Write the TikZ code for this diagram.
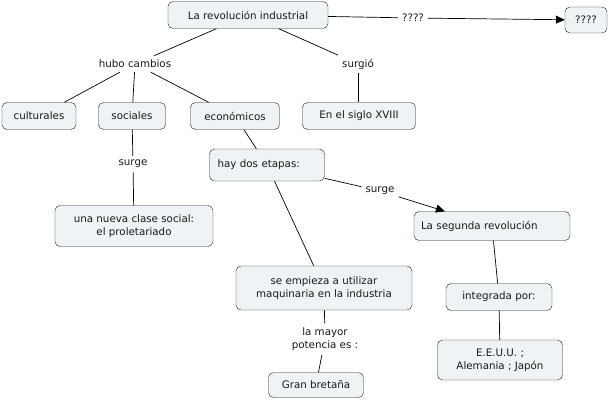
\documentclass[tikz,border=0pt]{standalone}
\usepackage{fontspec}
\setmainfont{DejaVu Sans}
\usetikzlibrary{arrows.meta}
\definecolor{boxfill}{HTML}{EEF3F5}
\definecolor{boxline}{HTML}{222222}
\begin{document}
\begin{tikzpicture}[x=1pt,y=-1pt,
  concept/.style={draw=boxline, fill=boxfill, rounded corners=5pt, inner xsep=6pt, align=center, text=black!90, font=\fontsize{10.3}{13}\selectfont},
  linkword/.style={fill=white, inner sep=4pt, align=center, text=black!90, font=\fontsize{10.3}{13}\selectfont},
  link/.style={draw=black, line width=0.7pt},
  tip/.style={-{Triangle[length=9pt,width=8pt]}}]
\useasboundingbox (0,0) rectangle (610,401);
\node[concept, minimum height=27pt, minimum width=160pt] (rev) at (248,15){La revolución industrial};
\node[concept, minimum height=26pt, minimum width=42pt] (preg) at (586,20){????};
\node[linkword] (qlink) at (413,18){????};
\draw[link](rev) -- (qlink);
\draw[link, tip](qlink) -- (preg);
\node[linkword] (hubo) at (135,64){hubo cambios};
\node[linkword] (surgio) at (358,64){surgió};
\draw[link](rev) -- (hubo);
\draw[link](rev) -- (surgio);
\node[concept, minimum height=27pt, minimum width=74pt] (cult) at (39,116){culturales};
\node[concept, minimum height=27pt, minimum width=67pt] (soc) at (132,116){sociales};
\node[concept, minimum height=27pt, minimum width=89pt] (econ) at (235,116){económicos};
\node[concept, minimum height=27pt, minimum width=113pt] (siglo) at (359,116){En el siglo XVIII};
\draw[link](hubo) -- (cult);
\draw[link](hubo) -- (soc);
\draw[link](hubo) -- (econ);
\draw[link](surgio) -- (surgio |- siglo.north);
\node[linkword] (surgeA) at (133,164){surge};
\node[concept, minimum height=41pt, minimum width=158pt] (clase) at (134,226){una nueva clase social:\\el proletariado};
\draw[link](soc) -- (surgeA);
\draw[link](surgeA) -- (clase);
\node[concept, minimum height=32pt, inner xsep=8pt, text width=99pt, align=left] (etapas) at (267,165){hay dos etapas:};
\draw[link](econ) -- (etapas);
\node[linkword] (surgeB) at (380,191){surge};
\node[concept, minimum height=29pt, inner xsep=7pt, text width=142pt, align=left] (segunda) at (492,226){La segunda revolución};
\draw[link](etapas) -- (surgeB);
\draw[link, tip](surgeB) -- (segunda);
\node[concept, minimum height=44pt, minimum width=176pt] (maquina) at (324,288){se empieza a utilizar\\maquinaria en la industria};
\draw[link](etapas) -- (maquina);
\node[linkword] (potencia) at (325,339){la mayor\\potencia es :};
\node[concept, minimum height=25pt, minimum width=95pt] (gran) at (316,385){Gran bretaña};
\draw[link](maquina) -- (potencia);
\draw[link](potencia) -- (gran);
\node[concept, minimum height=27pt, minimum width=106pt] (integ) at (499,297){integrada por:};
\node[concept, minimum height=40pt, minimum width=125pt] (paises) at (500,360){E.E.U.U. ;\\Alemania ; Japón};
\draw[link](segunda) -- (integ);
\draw[link](integ) -- (paises);
\end{tikzpicture}
\end{document}
